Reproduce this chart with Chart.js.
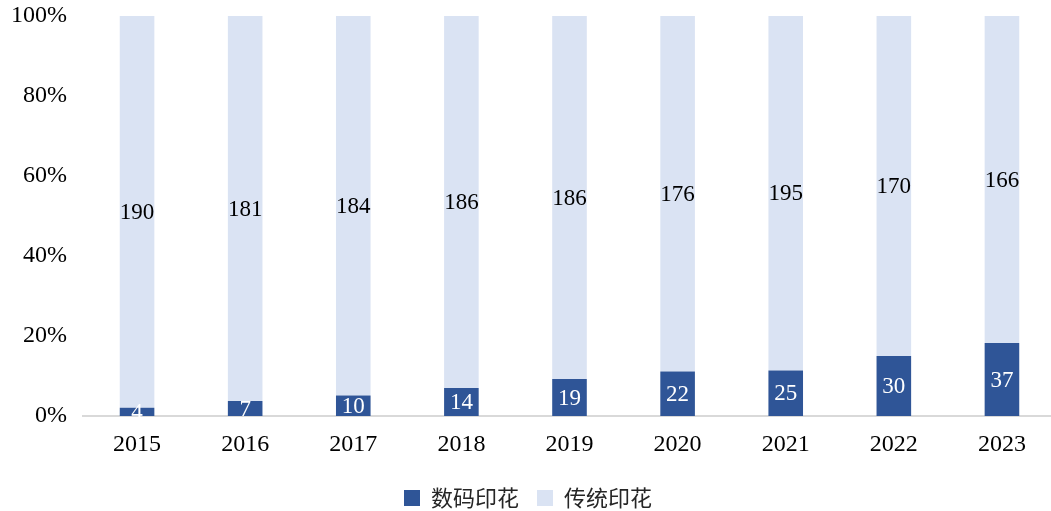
<!DOCTYPE html>
<html>
<head>
<meta charset="utf-8">
<script src="https://cdn.jsdelivr.net/npm/chart.js@4"></script>
<style>
  html, body { margin: 0; padding: 0; background: #fff; overflow: hidden; }
  #wrap { width: 1056px; height: 519px; }
</style>
</head>
<body>
<div id="wrap"><canvas id="printChart"></canvas></div>
<script>
// === Data ===
const years = ["2015", "2016", "2017", "2018", "2019", "2020", "2021", "2022", "2023"];
const digitalPrint = [4, 7, 10, 14, 19, 22, 25, 30, 37];
const traditionalPrint = [190, 181, 184, 186, 186, 176, 195, 170, 166];
const yTicks = [0, 20, 40, 60, 80, 100];

// share of each year's total, in percent
const totals = years.map((y, i) => digitalPrint[i] + traditionalPrint[i]);
const digitalPct = digitalPrint.map((v, i) => v / totals[i] * 100);
const traditionalPct = traditionalPrint.map((v, i) => v / totals[i] * 100);

const serif = '"Liberation Serif", "Times New Roman", serif';

// draw the raw value in the middle of each bar segment
const segmentLabels = {
  id: "segmentLabels",
  afterDatasetsDraw(chart) {
    const c = chart.ctx;
    c.save();
    c.font = "23px " + serif;
    c.textAlign = "center";
    c.textBaseline = "middle";
    chart.data.datasets.forEach((ds, di) => {
      const meta = chart.getDatasetMeta(di);
      meta.data.forEach((bar, i) => {
        const mid = (bar.y + bar.base) / 2;
        c.fillStyle = di === 0 ? "#ffffff" : "#000000";
        c.fillText(String(ds.rawValues[i]), bar.x, mid + 1);
      });
    });
    c.restore();
  }
};

new Chart(document.getElementById("printChart"), {
  type: "bar",
  data: {
    labels: years,
    datasets: [
      {
        label: "数码印花",
        data: digitalPct,
        rawValues: digitalPrint,
        backgroundColor: "#2F5597",
        barPercentage: 0.64,
        categoryPercentage: 0.5
      },
      {
        label: "传统印花",
        data: traditionalPct,
        rawValues: traditionalPrint,
        backgroundColor: "#DAE3F3",
        barPercentage: 0.64,
        categoryPercentage: 0.5
      }
    ]
  },
  options: {
    responsive: true,
    maintainAspectRatio: false,
    animation: false,
    layout: { padding: { top: 16, right: 0, left: 0, bottom: 0 } },
    plugins: {
      legend: {
        position: "bottom",
        labels: {
          boxWidth: 16,
          boxHeight: 16,
          padding: 18,
          color: "#262626",
          font: { family: '"Noto Sans CJK SC", sans-serif', size: 22 }
        }
      },
      tooltip: { enabled: false }
    },
    scales: {
      x: {
        stacked: true,
        afterFit: scale => { scale.height = 53; },
        grid: { display: false, drawTicks: false },
        border: { display: true, color: "#D9D9D9", width: 2 },
        ticks: {
          color: "#000",
          padding: 14,
          font: { family: serif, size: 24 }
        }
      },
      y: {
        stacked: true,
        min: 0,
        max: 100,
        afterFit: scale => { scale.width = 83; scale.paddingTop = 0; scale.paddingBottom = 0; },
        afterBuildTicks: scale => { scale.ticks = yTicks.map(v => ({ value: v })); },
        grid: { display: false, drawTicks: false },
        border: { display: false },
        ticks: {
          color: "#000",
          padding: 16,
          font: { family: serif, size: 24 },
          callback: v => v + "%"
        }
      }
    }
  },
  plugins: [segmentLabels]
});
</script>
</body>
</html>
